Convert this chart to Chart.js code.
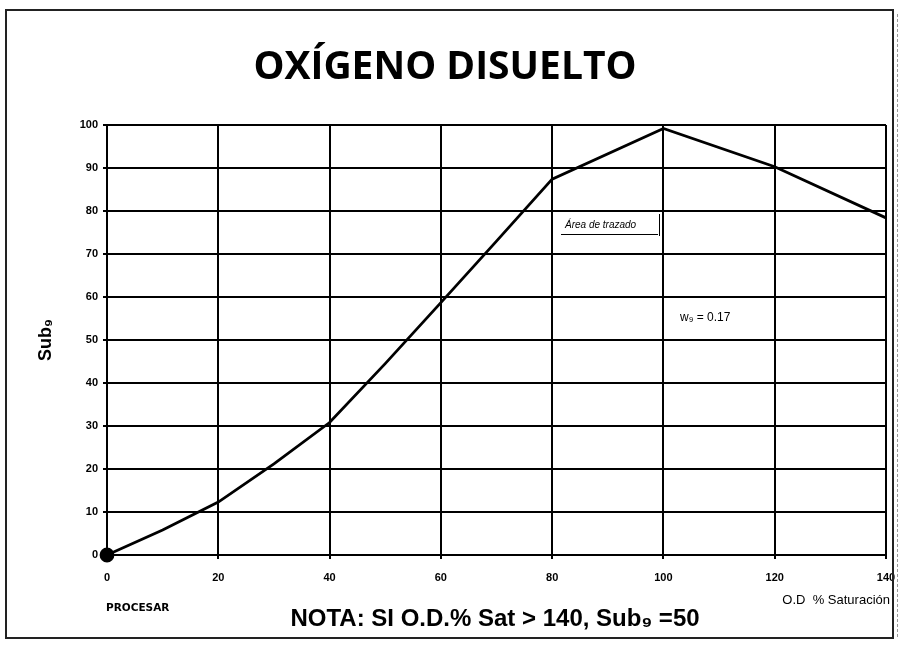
<!DOCTYPE html>
<html>
<head>
<meta charset="utf-8">
<script src="https://cdn.jsdelivr.net/npm/chart.js@4"></script>
<style>
  body { margin: 0; background: #fff; }
  #wrap { width: 901px; height: 649px; }
</style>
</head>
<body>
<div id="wrap"><canvas id="odChart" width="901" height="649"></canvas></div>
<script>
// % saturacion vs Sub9
const satValues = [0, 10, 20, 30, 40, 50, 60, 70, 80, 100, 120, 140];
const subValues = [0, 5.8, 12.3, 21.2, 30.8, 44.5, 58.7, 73, 87.4, 99.2, 90.3, 78.4];
const xTicks = [0, 20, 40, 60, 80, 100, 120, 140];
const yTicks = [0, 10, 20, 30, 40, 50, 60, 70, 80, 90, 100];

const points = satValues.map((x, i) => ({ x: x, y: subValues[i] }));

const decor = {
  id: 'decor',
  afterDraw(chart) {
    const ctx = chart.ctx;
    ctx.save();
    // outer frame
    ctx.strokeStyle = '#222';
    ctx.lineWidth = 2;
    ctx.strokeRect(6, 10, 887, 628);
    ctx.strokeStyle = '#999';
    ctx.lineWidth = 1;
    ctx.setLineDash([3, 2]);
    ctx.beginPath();
    ctx.moveTo(897.5, 14);
    ctx.lineTo(897.5, 638);
    ctx.stroke();
    ctx.setLineDash([]);

    ctx.fillStyle = '#000';
    ctx.textAlign = 'center';
    ctx.textBaseline = 'middle';
    ctx.font = 'bold 39px "Open Sans"';
    ctx.fillText('OXÍGENO DISUELTO', 445, 68);

    // y axis title
    ctx.save();
    ctx.translate(46, 340);
    ctx.rotate(-Math.PI / 2);
    ctx.font = 'bold 18px "Liberation Sans"';
    ctx.fillText('Sub₉', 0, 0);
    ctx.restore();

    // plot area tooltip
    ctx.font = 'italic 10px "Liberation Sans"';
    ctx.textAlign = 'left';
    ctx.fillText('Área de trazado', 565, 225);
    ctx.lineWidth = 1;
    ctx.strokeStyle = '#000';
    ctx.beginPath();
    ctx.moveTo(561, 234.5);
    ctx.lineTo(658, 234.5);
    ctx.moveTo(659.5, 214);
    ctx.lineTo(659.5, 236);
    ctx.stroke();

    ctx.font = '12px "Liberation Sans"';
    ctx.fillText('w₉ = 0.17', 680, 318);

    ctx.font = 'bold 10.5px "DejaVu Sans"';
    ctx.fillText('PROCESAR', 106, 608);

    ctx.font = '13px "Liberation Sans"';
    ctx.textAlign = 'right';
    ctx.fillText('O.D  % Saturación', 890, 600);

    ctx.textAlign = 'center';
    ctx.font = 'bold 24px "Liberation Sans"';
    ctx.fillText('NOTA: SI O.D.% Sat > 140, Sub₉ =50', 495, 619);

    ctx.restore();
  }
};

new Chart(document.getElementById('odChart'), {
  type: 'line',
  data: {
    datasets: [{
      data: points,
      borderColor: '#000',
      backgroundColor: '#000',
      borderWidth: 2.8,
      tension: 0,
      clip: false,
      pointRadius: points.map((p, i) => i === 0 ? 6 : 0),
      pointHoverRadius: 0
    }]
  },
  options: {
    responsive: false,
    animation: false,
    layout: { padding: { left: 20, right: 15, top: 125, bottom: 64 } },
    plugins: { legend: { display: false }, tooltip: { enabled: false } },
    scales: {
      x: {
        type: 'linear',
        min: 0,
        max: 140,
        afterBuildTicks: (s) => { s.ticks = xTicks.map(v => ({ value: v })); },
        afterFit: (s) => { s.height = 30; s.paddingLeft = 0; s.paddingRight = 0; },
        grid: { color: '#000', lineWidth: 2, drawTicks: true, tickLength: 4 },
        border: { color: '#000', width: 2 },
        ticks: { color: '#000', padding: 12, font: { family: 'Liberation Sans', size: 11, weight: 'bold' } }
      },
      y: {
        min: 0,
        max: 100,
        afterBuildTicks: (s) => { s.ticks = yTicks.map(v => ({ value: v })); },
        afterFit: (s) => { s.width = 87; s.paddingTop = 0; s.paddingBottom = 0; },
        grid: { color: '#000', lineWidth: 2, drawTicks: true, tickLength: 4 },
        border: { color: '#000', width: 2 },
        ticks: { color: '#000', padding: 5, font: { family: 'Liberation Sans', size: 11, weight: 'bold' } }
      }
    }
  },
  plugins: [decor]
});
</script>
</body>
</html>
